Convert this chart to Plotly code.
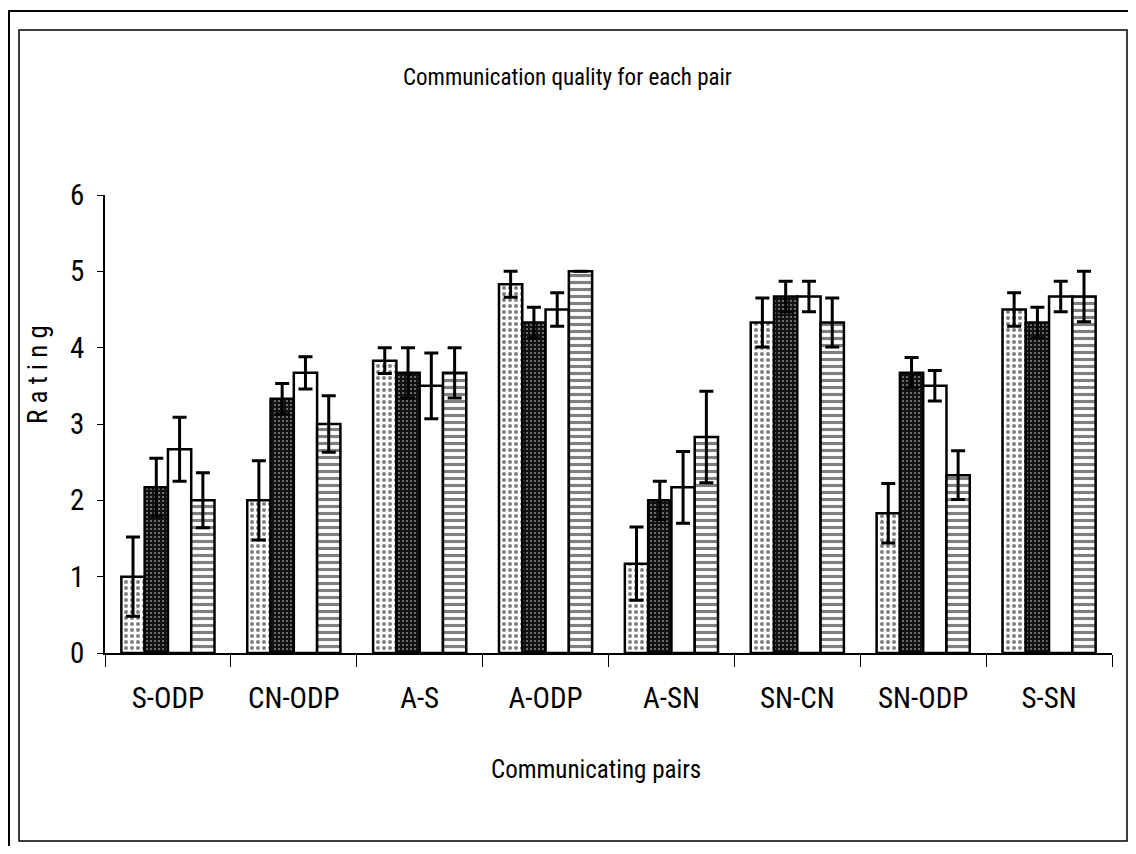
import plotly.graph_objects as go

categories = ["S-ODP", "CN-ODP", "A-S", "A-ODP", "A-SN", "SN-CN", "SN-ODP", "S-SN"]

series1 = [1.0, 2.0, 3.83, 4.83, 1.17, 4.33, 1.83, 4.5]
series2 = [2.17, 3.33, 3.67, 4.33, 2.0, 4.67, 3.67, 4.33]
series3 = [2.67, 3.67, 3.5, 4.5, 2.17, 4.67, 3.5, 4.67]
series4 = [2.0, 3.0, 3.67, 5.0, 2.83, 4.33, 2.33, 4.67]

err1 = [0.52, 0.52, 0.17, 0.17, 0.48, 0.32, 0.39, 0.22]
err2 = [0.38, 0.2, 0.33, 0.2, 0.25, 0.2, 0.2, 0.2]
err3 = [0.42, 0.21, 0.43, 0.22, 0.47, 0.2, 0.2, 0.2]
err4 = [0.36, 0.37, 0.33, 0.0, 0.6, 0.32, 0.32, 0.33]

y_ticks = [0, 1, 2, 3, 4, 5, 6]

FONT = "Liberation Sans Narrow, Arial Narrow, Roboto Condensed, DejaVu Sans Condensed, sans-serif"

patterns = [
    dict(shape=".", fgcolor="black", bgcolor="white", size=6, solidity=0.35),
    dict(shape=".", fgcolor="white", bgcolor="#111111", size=4, solidity=0.2),
    dict(shape="", bgcolor="white"),
    dict(shape="-", fgcolor="black", bgcolor="white", size=7, solidity=0.45),
]

# figure is placed 8px from the page corner by the page margin
W, H = 1120, 838
l, r, t, b = 97, 16, 187, 193
pw, ph = W - l - r, H - t - b


def px(xp):
    return (xp - l) / pw


def py(yp):
    return (H - b - yp) / ph


fig = go.Figure()
for vals, errs, pat in zip([series1, series2, series3, series4],
                           [err1, err2, err3, err4], patterns):
    fig.add_trace(go.Bar(
        x=categories, y=vals,
        marker=dict(color="white", pattern=pat, line=dict(color="black", width=2.5)),
        error_y=dict(type="data", array=errs, visible=True, color="black",
                     thickness=3, width=7),
        showlegend=False,
    ))

fig.update_layout(
    width=W, height=H,
    paper_bgcolor="white", plot_bgcolor="white",
    barmode="group", bargap=0.26, bargroupgap=0,
    margin=dict(l=l, r=r, t=t, b=b),
    font=dict(family=FONT, color="black", size=24),
    showlegend=False,
    xaxis=dict(
        type="category", showline=True, linecolor="black", linewidth=1.5,
        ticks="outside", ticklen=12, tickcolor="black", tickwidth=1,
        tickson="boundaries", showgrid=False, ticklabelstandoff=18,
        tickfont=dict(family=FONT, size=29),
    ),
    yaxis=dict(
        range=[0, 6], tickvals=y_ticks, showline=True, linecolor="black",
        linewidth=1.5, ticks="outside", ticklen=6, tickcolor="black",
        showgrid=False, zeroline=False, ticklabelstandoff=7,
        tickfont=dict(family=FONT, size=29),
    ),
)

fig.add_annotation(text="Communication quality for each pair", x=px(559), y=py(70),
                   xref="paper", yref="paper", showarrow=False,
                   xanchor="center", yanchor="middle",
                   font=dict(family=FONT, size=23))
fig.add_annotation(text="Communicating pairs", x=px(588), y=py(762),
                   xref="paper", yref="paper", showarrow=False,
                   xanchor="center", yanchor="middle",
                   font=dict(family=FONT, size=25))
fig.add_annotation(text="R a t i n g", textangle=-90,
                   x=px(30), y=py(367), xref="paper", yref="paper", showarrow=False,
                   xanchor="center", yanchor="middle",
                   font=dict(family=FONT, size=27))

fig.add_shape(type="rect", xref="paper", yref="paper",
              x0=px(1), x1=px(1135), y0=py(850), y1=py(3),
              line=dict(color="black", width=2))
fig.add_shape(type="rect", xref="paper", yref="paper",
              x0=px(11), x1=px(1119), y0=py(833), y1=py(22),
              line=dict(color="black", width=1.5))

fig.write_html("out.html")
